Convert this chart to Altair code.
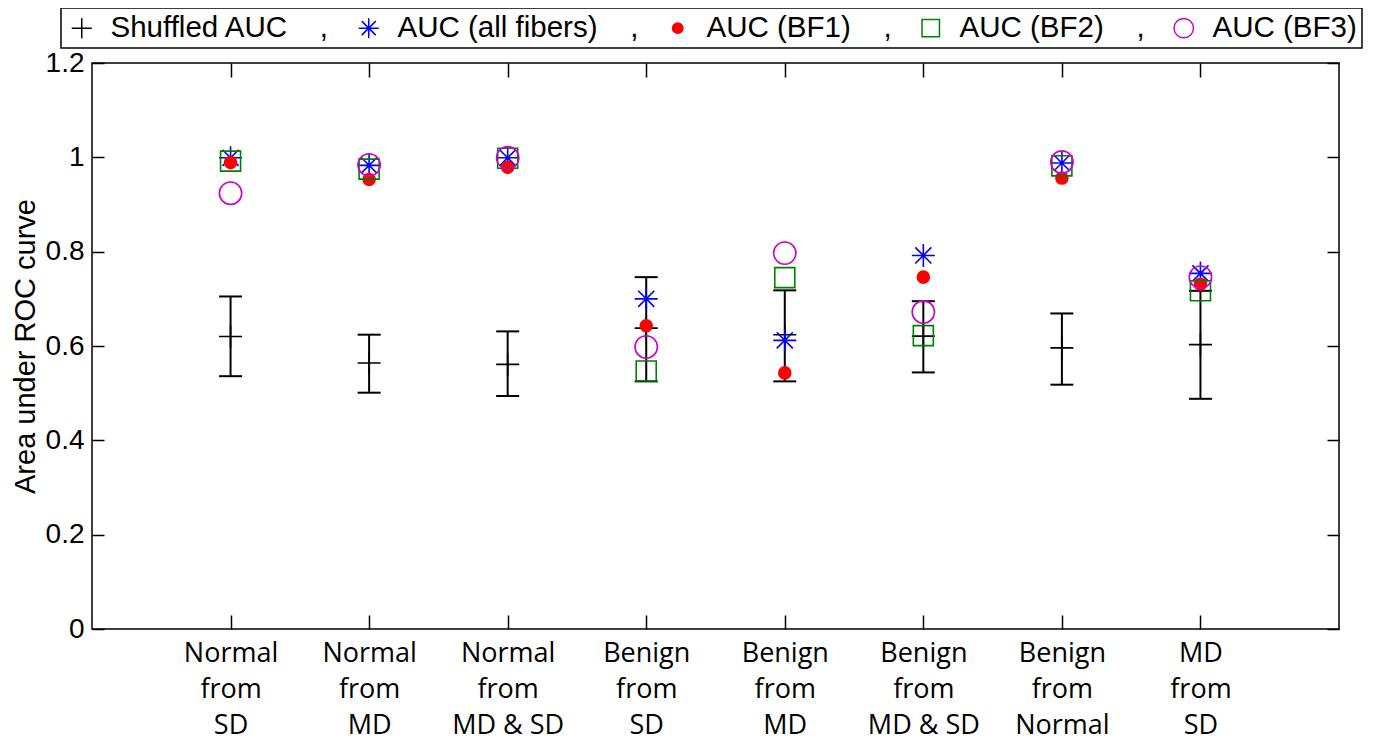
import altair as alt
import pandas as pd

# ---- data ----
cats = ["Normal from SD", "Normal from MD", "Normal from MD & SD", "Benign from SD",
        "Benign from MD", "Benign from MD & SD", "Benign from Normal", "MD from SD"]
series = ["Shuffled AUC", "AUC (all fibers)", "AUC (BF1)", "AUC (BF2)", "AUC (BF3)"]

shuffled_mean = [0.620, 0.564, 0.561, 0.638, 0.624, 0.621, 0.596, 0.603]
shuffled_lo = [0.536, 0.501, 0.494, 0.525, 0.525, 0.544, 0.518, 0.488]
shuffled_hi = [0.705, 0.624, 0.631, 0.746, 0.718, 0.695, 0.669, 0.717]
auc_all = [0.999, 0.983, 0.999, 0.700, 0.612, 0.792, 0.988, 0.754]
auc_bf1 = [0.989, 0.953, 0.979, 0.643, 0.543, 0.746, 0.956, 0.731]
auc_bf2 = [0.992, 0.975, 0.998, 0.547, 0.745, 0.622, 0.982, 0.717]
auc_bf3 = [0.924, 0.984, 0.999, 0.598, 0.797, 0.672, 0.990, 0.746]
y_ticks = [0, 0.2, 0.4, 0.6, 0.8, 1.0, 1.2]

err_df = pd.DataFrame({"cat": cats, "lo": shuffled_lo, "hi": shuffled_hi})
rows = []
for s, vals in zip(series, [shuffled_mean, auc_all, auc_bf1, auc_bf2, auc_bf3]):
    for c, v in zip(cats, vals):
        rows.append({"cat": c, "series": s, "auc": v})
pts_df = pd.DataFrame(rows)

# ---- styles ----
shapes = [
    "M-1,0H1M0,-1V1",
    "M-1,0H1M0,-1V1M-0.7,-0.7L0.7,0.7M-0.7,0.7L0.7,-0.7",
    "M-0.52,0A0.52,0.52,0,1,1,0.52,0A0.52,0.52,0,1,1,-0.52,0Z",
    "M-0.87,-0.87H0.87V0.87H-0.87Z",
    "M-0.97,0A0.97,0.97,0,1,1,0.97,0A0.97,0.97,0,1,1,-0.97,0Z",
]
strokes = ["#000000", "#0000ff", "#ff0000", "#008000", "#cc00cc"]
fills = ["transparent", "transparent", "#ff0000", "transparent", "transparent"]

NB = "\u00a0"
xscale = alt.Scale(type="point", padding=1, domain=cats)
yscale = alt.Scale(domain=[0, 1.2], nice=False, zero=False)

label_expr_x = "[split(datum.label,' from ')[0], 'from', split(datum.label,' from ')[1]]"

x_bottom = alt.Axis(orient="bottom", offset=-14, tickSize=14, tickWidth=1.5, tickColor="black",
                    domain=False, labelFont="Open Sans", labelFontSize=27, labelColor="black",
                    labelExpr=label_expr_x, labelLineHeight=36, labelPadding=11, labelAngle=0,
                    labelBaseline="top", title=None, grid=False)
y_left = alt.Axis(orient="left", values=y_ticks, format="~g", offset=-12, tickSize=12,
                  tickWidth=1.5, tickColor="black", domain=False, labelFont="Liberation Sans",
                  labelFontSize=28, labelColor="black", labelPadding=8, grid=False,
                  title="Area under ROC curve", titleFont="Liberation Sans", titleFontSize=29,
                  titleFontWeight="normal", titleColor="black", titlePadding=5)
x_top = alt.Axis(orient="top", offset=-14, tickSize=14, tickWidth=1.5, tickColor="black",
                 domain=False, labels=False, title=None, grid=False)
y_right = alt.Axis(orient="right", values=y_ticks, offset=-12, tickSize=12, tickWidth=1.5,
                   tickColor="black", domain=False, labels=False, title=None, grid=False)

rules = alt.Chart(err_df).mark_rule(color="black", strokeWidth=2).encode(
    x=alt.X("cat:N", scale=xscale, sort=cats, axis=x_bottom),
    y=alt.Y("lo:Q", scale=yscale, axis=y_left),
    y2="hi:Q",
)

caps = alt.Chart(err_df).transform_fold(["lo", "hi"], as_=["k", "v"]).mark_tick(
    orient="horizontal", size=23, thickness=2, color="black", opacity=1
).encode(
    x=alt.X("cat:N", scale=xscale, sort=cats, axis=x_top),
    y=alt.Y("v:Q", scale=yscale, axis=y_right),
)

legend = alt.Legend(
    orient="none", legendX=-31, legendY=-55, direction="horizontal",
    title=NB * 2, titleOrient="left", titlePadding=1, titleFontSize=29.5,
    strokeColor="black", fillColor="white", padding=5,
    labelFont="Liberation Sans", labelFontSize=29.5, labelColor="black", labelLimit=600,
    symbolSize=400, symbolStrokeWidth=1.5, labelOffset=14, columnPadding=24,
    labelExpr="datum.label == 'AUC (BF3)' ? datum.label + '" + NB * 2 + "' : datum.label + '" + NB * 4 + ",'",
)

points = alt.Chart(pts_df).mark_point(size=529, strokeWidth=1.6, opacity=1).encode(
    x=alt.X("cat:N", scale=xscale, sort=cats, axis=None),
    y=alt.Y("auc:Q", scale=yscale, axis=None),
    shape=alt.Shape("series:N", scale=alt.Scale(domain=series, range=shapes), legend=legend),
    color=alt.Color("series:N", scale=alt.Scale(domain=series, range=strokes), legend=legend),
    fill=alt.Fill("series:N", scale=alt.Scale(domain=series, range=fills), legend=legend),
    order=alt.Order("ord:Q"),
).transform_calculate(ord="indexof(" + str(series) + ", datum.series)")

chart = alt.layer(rules, caps, points).resolve_axis(x="independent", y="independent").properties(
    width=1247, height=566,
    autosize=alt.AutoSizeParams(type="none"),
    padding={"left": 84, "top": 55, "right": 27, "bottom": 115},
).configure_view(stroke="black", strokeWidth=1.5).configure_legend(strokeWidth=1.5)

chart.save("out.html", embed_options={"renderer": "svg", "actions": False})
